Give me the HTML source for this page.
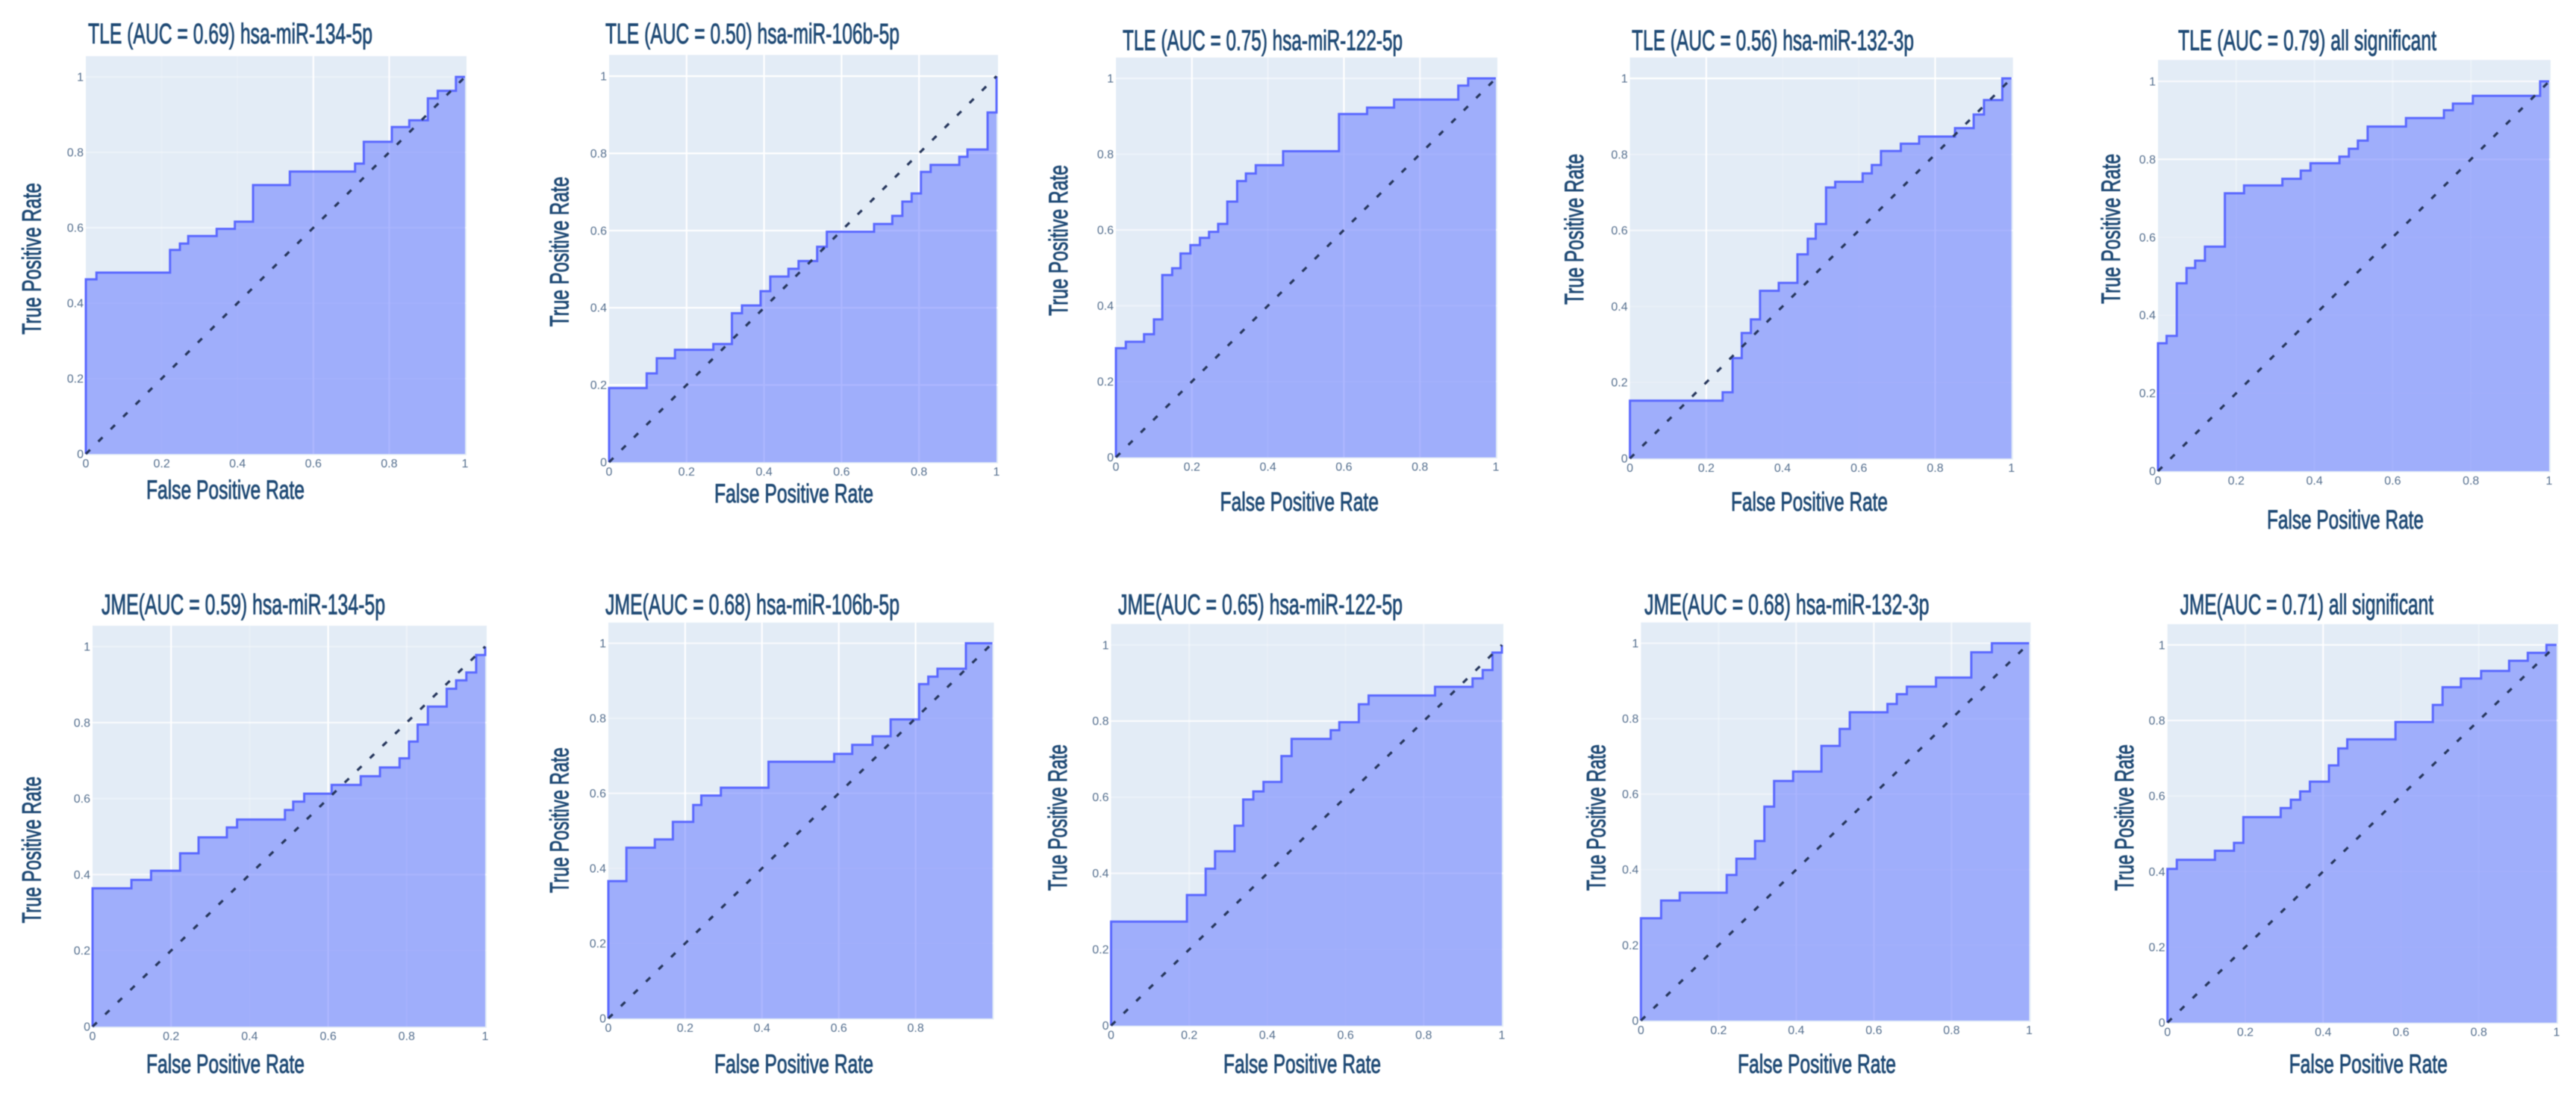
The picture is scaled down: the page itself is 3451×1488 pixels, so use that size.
<!DOCTYPE html>
<html lang="en">
<head>
<meta charset="utf-8">
<title>ROC curves for TLE and JME</title>
<style>
  html, body { margin: 0; padding: 0; background: #ffffff; }
  #figure { display: block; width: 3451px; height: 1488px; filter: blur(0.6px); }
  text { font-family: "Liberation Sans Narrow", "Liberation Sans", sans-serif; }
</style>
</head>
<body>
<svg id="figure" xmlns="http://www.w3.org/2000/svg" width="3451" height="1488" viewBox="0 0 3451 1488"></svg>
<script>
// ---- Chart data ----
const xTickValues = [0, 0.2, 0.4, 0.6, 0.8, 1];
const yTickValues = [0, 0.2, 0.4, 0.6, 0.8, 1];
const diagonalFpr = [0, 1];
const diagonalTpr = [0, 1];

const tle134Fpr = [0,.028,.222,.248,.27,.345,.393,.441,.538,.71,.733,.807,.853,.902,.928,.976,1];
const tle134Tpr = [.463,.481,.541,.558,.578,.597,.616,.713,.749,.770,.828,.867,.885,.943,.963,1,1];

const tle106Fpr = [0,.097,.123,.170,.269,.317,.343,.391,.416,.463,.489,.537,.562,.684,.731,.757,.781,.805,.830,.904,.925,.977,1];
const tle106Tpr = [.192,.230,.269,.291,.306,.386,.406,.443,.481,.501,.521,.558,.597,.617,.638,.675,.696,.752,.770,.791,.810,.906,1];

const tle122Fpr = [0,.026,.074,.1,.122,.148,.170,.196,.221,.245,.269,.293,.319,.342,.368,.440,.587,.661,.732,.901,.927,1];
const tle122Tpr = [.288,.305,.325,.364,.481,.499,.538,.56,.579,.595,.616,.675,.729,.749,.771,.808,.906,.923,.944,.981,1,1];

const tle132Fpr = [0,.243,.269,.293,.317,.341,.390,.439,.466,.487,.514,.538,.610,.634,.658,.710,.758,.852,.901,.928,.976,1];
const tle132Tpr = [.152,.174,.264,.330,.366,.441,.462,.537,.578,.617,.713,.728,.750,.772,.809,.828,.847,.869,.905,.943,1,1];

const tleAllFpr = [0,.022,.048,.073,.095,.120,.171,.220,.318,.365,.390,.464,.488,.511,.536,.634,.731,.754,.805,.977,1];
const tleAllTpr = [.328,.347,.482,.521,.540,.576,.713,.733,.750,.771,.790,.807,.827,.848,.884,.906,.926,.943,.963,1,1];

const jme134Fpr = [0,.099,.149,.223,.270,.342,.368,.490,.511,.539,.609,.683,.732,.782,.806,.828,.854,.902,.926,.952,.977,1];
const jme134Tpr = [.364,.386,.410,.456,.498,.524,.545,.570,.592,.613,.636,.659,.682,.706,.750,.795,.842,.889,.911,.932,.978,1];

const jme106Fpr = [0,.047,.121,.168,.221,.242,.293,.417,.588,.635,.688,.735,.809,.833,.857,.931,1];
const jme106Tpr = [.366,.455,.477,.524,.569,.594,.615,.684,.705,.729,.752,.797,.891,.911,.932,1,1];

const jme122Fpr = [0,.194,.242,.266,.316,.338,.364,.390,.436,.462,.562,.584,.634,.659,.829,.925,.951,.976,1];
const jme122Tpr = [.273,.343,.412,.458,.525,.594,.615,.640,.708,.753,.776,.797,.844,.867,.890,.912,.934,.980,1];

const jme132Fpr = [0,.052,.100,.221,.246,.294,.318,.343,.392,.465,.512,.538,.635,.659,.685,.760,.851,.904,1];
const jme132Tpr = [.271,.318,.339,.386,.429,.476,.567,.635,.660,.728,.773,.817,.839,.865,.885,.909,.976,1,1];

const jmeAllFpr = [0,.024,.122,.171,.195,.291,.317,.341,.366,.415,.439,.462,.586,.682,.707,.754,.806,.878,.926,.974,1];
const jmeAllTpr = [.407,.431,.455,.476,.544,.568,.590,.612,.638,.681,.726,.750,.796,.841,.888,.911,.931,.958,.979,1,1];

const panelTitles = [
  "TLE (AUC = 0.69) hsa-miR-134-5p", "TLE (AUC = 0.50) hsa-miR-106b-5p", "TLE (AUC = 0.75) hsa-miR-122-5p",
  "TLE (AUC = 0.56) hsa-miR-132-3p", "TLE (AUC = 0.79) all significant",
  "JME(AUC = 0.59) hsa-miR-134-5p", "JME(AUC = 0.68) hsa-miR-106b-5p", "JME(AUC = 0.65) hsa-miR-122-5p",
  "JME(AUC = 0.68) hsa-miR-132-3p", "JME(AUC = 0.71) all significant"
];
const xAxisTitle = "False Positive Rate";
const yAxisTitle = "True Positive Rate";

// ---- Layout (pixels and styling only, separate from the data) ----
const layouts = [
  {l:115,r:623,b:608,t:103,title:[118,499,58],xt:[196,408,668],yt:[54.5,448,245],vg:[.15,.15,1,.9],hg:[.3,.3,.5,.3,.3]},
  {l:816,r:1335,b:619,t:102,title:[811,1205,58],xt:[957,1170,673],yt:[761.6,437.5,236.6],vg:[1,1,1,1],hg:[1,1,1,1,1]},
  {l:1495,r:2004,b:612.5,t:105,title:[1504,1879,67],xt:[1634.5,1847,684],yt:[1430,423,221],vg:[1,.4,1,.8],hg:[.3,.4,.6,.3,.5]},
  {l:2183.6,r:2694.7,b:614,t:105,title:[2186,2564,67],xt:[2319,2529,684],yt:[2121,408,206],vg:[1,.15,.15,1],hg:[.2,.2,.6,.3,1]},
  {l:2891,r:3415,b:631,t:109,title:[2918,3264,67],xt:[3037,3247,708],yt:[2840,407,206],vg:[.3,.3,.3,.3],hg:[.2,.2,.2,.8,.7]},
  {l:124,r:650,b:1375,t:866,title:[136,516,822.7],xt:[196,408,1437],yt:[54.5,1236.5,1040],vg:[1,.2,1,.4],hg:[.2,.7,.3,.8,.3]},
  {l:815,r:1329.5,b:1364,t:861.5,title:[811,1205,822.7],xt:[957,1170,1437],yt:[761.6,1196,1001],vg:[1,1,1,1],hg:[.2,.2,.7,.3,.7]},
  {l:1488.5,r:2012,b:1373.6,t:863.75,title:[1498,1879,822.7],xt:[1639,1850,1437],yt:[1429,1193,997],vg:[.4,.2,.2,.5],hg:[.2,.7,.3,.8,.3]},
  {l:2198.3,r:2718.4,b:1366.9,t:861.5,title:[2203,2584.5,822.7],xt:[2328,2540,1437],yt:[2150.5,1193,997],vg:[.3,.6,.8,.6],hg:[.2,.2,.4,.3,.6]},
  {l:2903.7,r:3425,b:1369.6,t:863.75,title:[2920.6,3260,822.7],xt:[3066.6,3279,1437],yt:[2858,1193,997],vg:[.4,.9,.2,.3],hg:[.2,.2,.3,.8,.8]}
];
const seriesFpr = [tle134Fpr, tle106Fpr, tle122Fpr, tle132Fpr, tleAllFpr, jme134Fpr, jme106Fpr, jme122Fpr, jme132Fpr, jmeAllFpr];
const seriesTpr = [tle134Tpr, tle106Tpr, tle122Tpr, tle132Tpr, tleAllTpr, jme134Tpr, jme106Tpr, jme122Tpr, jme132Tpr, jmeAllTpr];
// The x = 1 tick label is cut off in the JME hsa-miR-106b-5p panel.
const hideLastXTick = [false, false, false, false, false, false, true, false, false, false];

const NS = "http://www.w3.org/2000/svg";
const root = document.getElementById("figure");
const TITLE_COLOR = "#1f4a75";
const TICK_COLOR = "#56708f";

function make(tag, parent, attrs) {
  const el = document.createElementNS(NS, tag);
  for (const k in attrs) el.setAttribute(k, attrs[k]);
  parent.appendChild(el);
  return el;
}

function stepPath(fpr, tpr, xScale, yScale) {
  let d = "M" + xScale(0) + " " + yScale(0);
  let prevY = yScale(0);
  for (let i = 0; i < fpr.length; i++) {
    const x = xScale(fpr[i]);
    d += " L" + x + " " + prevY;
    prevY = yScale(tpr[i]);
    d += " L" + x + " " + prevY;
  }
  return d;
}

layouts.forEach(function (p, idx) {
  const xScale = function (v) { return p.l + v * (p.r - p.l); };
  const yScale = function (v) { return p.b - v * (p.b - p.t); };
  const fpr = seriesFpr[idx];
  const tpr = seriesTpr[idx];

  const g = make("g", root, {});
  
  

  // Plot background
  const bgTop = yScale(1.055);
  const bg = make("rect", g, { x: p.l, y: bgTop, width: p.r - p.l + 2, height: p.b - bgTop + 1.5, fill: "#e3ecf6" });
  
  

  // Vertical grid lines
  [0.2, 0.4, 0.6, 0.8].forEach(function (v, i) {
    const line = make("line", g, { x1: xScale(v), x2: xScale(v), y1: bgTop, y2: p.b, stroke: "#ffffff", "stroke-width": 2.2, "stroke-opacity": p.vg[i] });
    
    
  });
  // Horizontal grid lines
  [0.2, 0.4, 0.6, 0.8, 1].forEach(function (v, i) {
    const line = make("line", g, { x1: p.l, x2: p.r + 2, y1: yScale(v), y2: yScale(v), stroke: "#ffffff", "stroke-width": 2.2, "stroke-opacity": p.hg[i] });
    
    
  });

  // Area under the curve
  const curve = stepPath(fpr, tpr, xScale, yScale);
  const area = make("path", g, { d: curve + " L" + xScale(1) + " " + yScale(0) + " Z", fill: "rgba(91,112,255,0.5)", stroke: "none" });
  
  

  // ROC line
  const rocLine = make("path", g, { d: curve, fill: "none", stroke: "#5a68ff", "stroke-width": 3 });
  
  

  // Chance diagonal
  const diag = make("line", g, { x1: xScale(diagonalFpr[0]), y1: yScale(diagonalTpr[0]), x2: xScale(diagonalFpr[1]), y2: yScale(diagonalTpr[1]), stroke: "#26365c", "stroke-width": 3.2, "stroke-dasharray": "8 15.5" });
  
  

  // X tick labels
  xTickValues.forEach(function (v, i) {
    if (hideLastXTick[idx] && i === xTickValues.length - 1) return;
    const t = make("text", g, { x: xScale(v), y: p.b + 18, "text-anchor": "middle", "font-size": 16, fill: TICK_COLOR, style: 'font-family:"Liberation Sans",sans-serif' });
    t.textContent = String(v);
    
    
  });
  // Y tick labels
  yTickValues.forEach(function (v) {
    const t = make("text", g, { x: p.l - 3, y: yScale(v) + 5.5, "text-anchor": "end", "font-size": 16, fill: TICK_COLOR, style: 'font-family:"Liberation Sans",sans-serif' });
    t.textContent = String(v);
    
    
  });

  // Panel title
  const title = make("text", g, { x: p.title[0], y: p.title[2], "font-size": 38, fill: TITLE_COLOR, stroke: TITLE_COLOR, "stroke-width": 0.9, textLength: p.title[1] - p.title[0], lengthAdjust: "spacingAndGlyphs" });
  title.textContent = panelTitles[idx];
  
  

  // X axis title
  const xt = make("text", g, { x: p.xt[0], y: p.xt[2], "font-size": 35, fill: TITLE_COLOR, stroke: TITLE_COLOR, "stroke-width": 0.9, textLength: p.xt[1] - p.xt[0], lengthAdjust: "spacingAndGlyphs" });
  xt.textContent = xAxisTitle;
  
  

  // Y axis title
  const yt = make("text", g, { x: p.yt[0], y: p.yt[1], transform: "rotate(-90 " + p.yt[0] + " " + p.yt[1] + ")", "font-size": 35, fill: TITLE_COLOR, stroke: TITLE_COLOR, "stroke-width": 0.9, textLength: p.yt[1] - p.yt[2], lengthAdjust: "spacingAndGlyphs" });
  yt.textContent = yAxisTitle;
  
  
});
</script>
</body>
</html>
